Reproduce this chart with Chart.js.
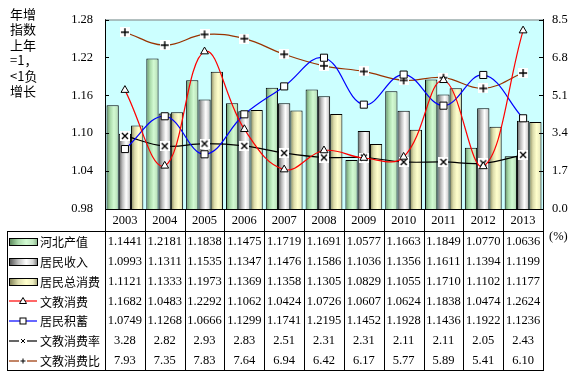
<!DOCTYPE html>
<html>
<head>
<meta charset="utf-8">
<script src="https://cdn.jsdelivr.net/npm/chart.js@4"></script>
<style>
  body { margin: 0; background: #fff; }
  #wrap { position: relative; width: 576px; height: 376px; overflow: hidden; }
  #chart { position: absolute; left: 0; top: 0; }
  .cell { position: absolute; text-align: center; font-family: "Liberation Serif", serif; font-size: 12.5px; color: #000; white-space: nowrap; }
  .line { position: absolute; background: #000; }
  .lab { position: absolute; font-family: "Noto Sans CJK SC", sans-serif; font-size: 12px; color: #000; white-space: nowrap; }
  #ytitle { position: absolute; left: 10px; top: 6px; font-family: "Noto Sans CJK SC", sans-serif; font-size: 13px; line-height: 15.4px; color: #000; }
  #pct { position: absolute; left: 549px; top: 229px; font-family: "Liberation Serif", serif; font-size: 12.5px; }
</style>
</head>
<body>
<div id="wrap">
  <canvas id="chart" width="576" height="376"></canvas>
  <div id="ytitle">年增<br>指数<br>上年<br>=1，<br>&lt;1负<br>增长</div>
  <div id="pct">(%)</div>
</div>
<script>
const years = ['2003', '2004', '2005', '2006', '2007', '2008', '2009', '2010', '2011', '2012', '2013'];
const hebeiOutput = [1.1441, 1.2181, 1.1838, 1.1475, 1.1719, 1.1691, 1.0577, 1.1663, 1.1849, 1.0770, 1.0636];
const income = [1.0993, 1.1311, 1.1535, 1.1347, 1.1476, 1.1586, 1.1036, 1.1356, 1.1611, 1.1394, 1.1199];
const totalSpend = [1.1121, 1.1333, 1.1973, 1.1369, 1.1358, 1.1305, 1.0829, 1.1055, 1.1710, 1.1102, 1.1177];
const eduSpend = [1.1682, 1.0483, 1.2292, 1.1062, 1.0424, 1.0726, 1.0607, 1.0624, 1.1838, 1.0474, 1.2624];
const savings = [1.0749, 1.1268, 1.0666, 1.1299, 1.1741, 1.2195, 1.1452, 1.1928, 1.1436, 1.1922, 1.1236];
const eduRate = [3.28, 2.82, 2.93, 2.83, 2.51, 2.31, 2.31, 2.11, 2.11, 2.05, 2.43];
const eduRatio = [7.93, 7.35, 7.83, 7.64, 6.94, 6.42, 6.17, 5.77, 5.89, 5.41, 6.10];
const leftMin = 0.98, leftMax = 1.28, leftStep = 0.06;
const rightMin = 0, rightMax = 8.5, rightStep = 1.7;

// bar gradients, left to right across each bar
const greenStops = [[0, '#5f8c5f'], [0.3, '#a9d9a9'], [0.6, '#d2fad2'], [0.85, '#bfe6bf'], [1, '#8fb98f']];
const grayStops = [[0, '#5a5a5a'], [0.3, '#bdbdbd'], [0.6, '#ffffff'], [0.85, '#d6d6d6'], [1, '#808080']];
const yellowStops = [[0, '#85855a'], [0.3, '#dcdcab'], [0.6, '#ffffcc'], [0.85, '#ededc0'], [1, '#adad80']];

function markCanvas(kind) {
    const c = document.createElement('canvas');
    c.width = 10; c.height = 10;
    const g = c.getContext('2d');
    g.fillStyle = '#fff';
    g.fillRect(0, 0, 10, 10);
    g.strokeStyle = '#000';
    g.lineWidth = 1.4;
    g.beginPath();
    if (kind === 'x') {
        g.moveTo(2, 2); g.lineTo(8, 8);
        g.moveTo(8, 2); g.lineTo(2, 8);
    } else {
        g.moveTo(5, 1); g.lineTo(5, 9);
        g.moveTo(1, 5); g.lineTo(9, 5);
    }
    g.stroke();
    return c;
}

const gradientBars = {
    id: 'gradientBars',
    beforeDatasetsDraw(chart) {
        const ctx = chart.ctx;
        chart.data.datasets.forEach((ds, i) => {
            if (ds.type !== 'bar') return;
            const meta = chart.getDatasetMeta(i);
            meta.data.forEach(el => {
                const g = ctx.createLinearGradient(el.x - el.width / 2, 0, el.x + el.width / 2, 0);
                ds.stops.forEach(s => g.addColorStop(s[0], s[1]));
                el.options = Object.assign({}, el.options, { backgroundColor: g });
            });
        });
    }
};

const plotFrame = {
    id: 'plotFrame',
    beforeDraw(chart) {
        const a = chart.chartArea, ctx = chart.ctx;
        ctx.save();
        ctx.fillStyle = '#ccffff';
        ctx.fillRect(a.left, a.top, a.right - a.left, a.bottom - a.top);
        ctx.restore();
    },
    afterDraw(chart) {
        const a = chart.chartArea, ctx = chart.ctx;
        ctx.save();
        ctx.strokeStyle = '#808080';
        ctx.lineWidth = 1;
        ctx.beginPath();
        ctx.moveTo(a.left, a.top + 0.5);
        ctx.lineTo(a.right, a.top + 0.5);
        ctx.stroke();
        // small inward tick marks
        ctx.strokeStyle = '#000';
        ctx.beginPath();
        chart.scales.y.ticks.forEach(t => {
            const y = Math.round(chart.scales.y.getPixelForValue(t.value)) + 0.5;
            ctx.moveTo(a.left, y); ctx.lineTo(a.left + 4, y);
        });
        chart.scales.y2.ticks.forEach(t => {
            const y = Math.round(chart.scales.y2.getPixelForValue(t.value)) + 0.5;
            ctx.moveTo(a.right - 4, y); ctx.lineTo(a.right, y);
        });
        ctx.stroke();
        ctx.restore();
    }
};

const lineBase = { type: 'line', borderWidth: 1.2, tension: 0.4, fill: false, order: 0, pointBorderColor: '#000', pointBackgroundColor: '#fff', pointBorderWidth: 1 };

const chart = new Chart(document.getElementById('chart'), {
    data: {
        labels: years,
        datasets: [
            Object.assign({}, lineBase, { label: '文教消费', data: eduSpend, yAxisID: 'y', borderColor: '#ff0000', pointStyle: 'triangle', pointRadius: 4.5 }),
            Object.assign({}, lineBase, { label: '居民积蓄', data: savings, yAxisID: 'y', borderColor: '#0000ff', pointStyle: 'rect', pointRadius: 5 }),
            Object.assign({}, lineBase, { label: '文教消费率', data: eduRate, yAxisID: 'y2', borderColor: '#000000', pointStyle: markCanvas('x'), pointRadius: 5 }),
            Object.assign({}, lineBase, { label: '文教消费比', data: eduRatio, yAxisID: 'y2', borderColor: '#993300', pointStyle: markCanvas('+'), pointRadius: 5 }),
            { type: 'bar', label: '河北产值', data: hebeiOutput, yAxisID: 'y', stops: greenStops, backgroundColor: '#ccffcc', borderColor: '#000', borderWidth: 1, order: 1, barPercentage: 1, categoryPercentage: 0.925 },
            { type: 'bar', label: '居民收入', data: income, yAxisID: 'y', stops: grayStops, backgroundColor: '#dddddd', borderColor: '#000', borderWidth: 1, order: 1, barPercentage: 1, categoryPercentage: 0.925 },
            { type: 'bar', label: '居民总消费', data: totalSpend, yAxisID: 'y', stops: yellowStops, backgroundColor: '#ffffcc', borderColor: '#000', borderWidth: 1, order: 1, barPercentage: 1, categoryPercentage: 0.925 }
        ]
    },
    options: {
        responsive: false,
        animation: false,
        layout: { padding: { top: 15, bottom: 167, left: 0, right: 0 } },
        plugins: { legend: { display: false }, tooltip: { enabled: false } },
        scales: {
            x: { display: false },
            y: {
                position: 'left', min: leftMin, max: leftMax,
                afterFit(s) { s.width = 105; },
                afterBuildTicks(s) {
                    s.ticks = [];
                    for (let v = leftMin; v <= leftMax + 1e-9; v += leftStep) s.ticks.push({ value: +v.toFixed(2) });
                },
                ticks: { padding: 12, color: '#000', font: { family: 'Liberation Serif', size: 12.5 }, callback: v => Number(v).toFixed(2) },
                grid: { display: false, drawTicks: false },
                border: { display: true, color: '#000', width: 1 }
            },
            y2: {
                position: 'right', min: rightMin, max: rightMax,
                afterFit(s) { s.width = 33; },
                afterBuildTicks(s) {
                    s.ticks = [];
                    for (let v = rightMin; v <= rightMax + 1e-9; v += rightStep) s.ticks.push({ value: +v.toFixed(1) });
                },
                ticks: { padding: 9, color: '#000', font: { family: 'Liberation Serif', size: 12.5 }, callback: v => Number(v).toFixed(1) },
                grid: { display: false, drawTicks: false },
                border: { display: true, color: '#000', width: 1 }
            }
        }
    },
    plugins: [gradientBars, plotFrame]
});

// data table under the plot
const wrap = document.getElementById('wrap');
const area = chart.chartArea;
const colW = (area.right - area.left) / years.length;
const tableLeft = 7, headTop = Math.round(area.bottom), bodyTop = 231, rowH = 19.85, bodyBottom = 370;

function addLine(x, y, w, h) {
    const d = document.createElement('div');
    d.className = 'line';
    d.style.left = x + 'px'; d.style.top = y + 'px';
    d.style.width = w + 'px'; d.style.height = h + 'px';
    wrap.appendChild(d);
}
function addCell(text, x, y, w, h, cls) {
    const d = document.createElement('div');
    d.className = cls || 'cell';
    d.textContent = text;
    d.style.left = x + 'px'; d.style.top = y + 'px';
    d.style.width = w + 'px'; d.style.height = h + 'px';
    d.style.lineHeight = h + 'px';
    wrap.appendChild(d);
    return d;
}

addLine(tableLeft, bodyTop, Math.round(area.right) - tableLeft + 1, 1);
addLine(tableLeft, bodyBottom, Math.round(area.right) - tableLeft + 1, 1);
addLine(tableLeft, bodyTop, 1, bodyBottom - bodyTop);
addLine(Math.round(area.left), headTop, Math.round(area.right) - Math.round(area.left) + 1, 1);
for (let i = 0; i <= years.length; i++) {
    const x = Math.round(area.left + i * colW);
    addLine(x, headTop, 1, bodyBottom - headTop + 1);
}
years.forEach((yr, i) => addCell(yr, area.left + i * colW, headTop + 1, colW, bodyTop - headTop - 1));

const rows = [
    { name: '河北产值', vals: hebeiOutput, dp: 4, key: 'bar', stops: greenStops },
    { name: '居民收入', vals: income, dp: 4, key: 'bar', stops: grayStops },
    { name: '居民总消费', vals: totalSpend, dp: 4, key: 'bar', stops: yellowStops },
    { name: '文教消费', vals: eduSpend, dp: 4, key: 'tri', color: '#ff0000' },
    { name: '居民积蓄', vals: savings, dp: 4, key: 'sq', color: '#0000ff' },
    { name: '文教消费率', vals: eduRate, dp: 2, key: 'x', color: '#000000' },
    { name: '文教消费比', vals: eduRatio, dp: 2, key: '+', color: '#993300' }
];

function keySvg(r) {
    if (r.key === 'bar') {
        const g = r.stops.map(s => s[1] + ' ' + (s[0] * 100) + '%').join(',');
        return '<div style="width:27px;height:6px;border:1px solid #000;background:linear-gradient(to right,' + g + ')"></div>';
    }
    let m = '';
    if (r.key === 'tri') m = '<polygon points="14,1.5 17.5,7.5 10.5,7.5" fill="#fff" stroke="#000" stroke-width="1"/>';
    if (r.key === 'sq') m = '<rect x="11" y="2" width="6" height="6" fill="#fff" stroke="#000" stroke-width="1"/>';
    if (r.key === 'x') m = '<rect x="10" y="1" width="8" height="8" fill="#fff"/><path d="M12,3L16,7M16,3L12,7" stroke="#000" stroke-width="1"/>';
    if (r.key === '+') m = '<rect x="10" y="1" width="8" height="8" fill="#fff"/><path d="M14,2.5V7.5M11.5,5H16.5" stroke="#000" stroke-width="1"/>';
    return '<svg width="28" height="10" style="display:block"><line x1="0" y1="5" x2="28" y2="5" stroke="' + r.color + '" stroke-width="1.2"/>' + m + '</svg>';
}

rows.forEach((r, ri) => {
    const top = bodyTop + 1 + ri * rowH;
    const k = document.createElement('div');
    k.style.position = 'absolute';
    k.style.left = '9px';
    k.style.top = (top + rowH / 2 - (r.key === 'bar' ? 4 : 5)) + 'px';
    k.innerHTML = keySvg(r);
    wrap.appendChild(k);
    addCell(r.name, 40, top, 64, rowH, 'lab');
    r.vals.forEach((v, i) => addCell(v.toFixed(r.dp), area.left + i * colW, top, colW, rowH));
});
</script>
</body>
</html>
